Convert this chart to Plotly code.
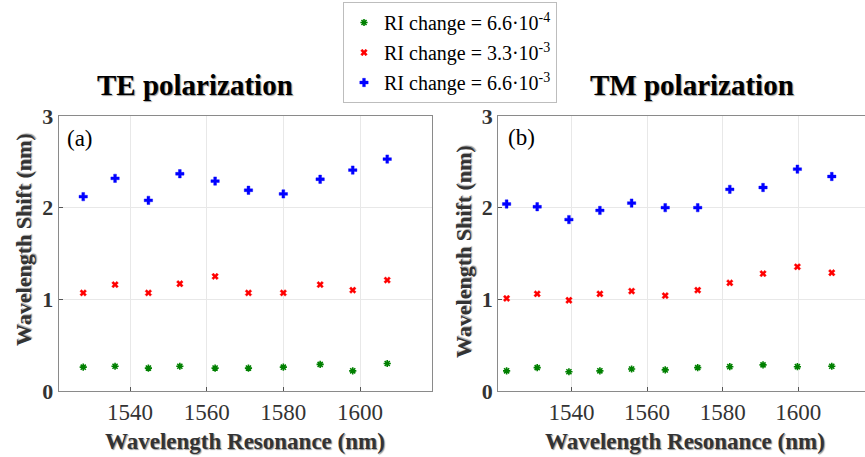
import plotly.graph_objects as go

# ---- data ----
te_wl = [1527.8, 1536.1, 1544.8, 1553.0, 1562.2, 1570.9, 1580.0, 1589.6, 1598.1, 1607.1]
te_ri1 = [0.26, 0.27, 0.25, 0.27, 0.25, 0.25, 0.26, 0.29, 0.22, 0.30]
te_ri2 = [1.07, 1.16, 1.07, 1.17, 1.25, 1.07, 1.07, 1.16, 1.10, 1.21]
te_ri3 = [2.12, 2.32, 2.08, 2.37, 2.29, 2.19, 2.15, 2.31, 2.41, 2.53]

tm_wl = [1522.8, 1530.9, 1539.3, 1547.5, 1555.9, 1564.8, 1573.4, 1581.9, 1590.7, 1599.8, 1608.9]
tm_ri1 = [0.22, 0.255, 0.21, 0.22, 0.24, 0.23, 0.255, 0.265, 0.285, 0.265, 0.27]
tm_ri2 = [1.01, 1.06, 0.99, 1.06, 1.09, 1.04, 1.10, 1.18, 1.28, 1.355, 1.29]
tm_ri3 = [2.04, 2.01, 1.87, 1.97, 2.05, 2.00, 2.00, 2.20, 2.22, 2.42, 2.34]

series_names = ["RI change = 6.6·10<sup>-4</sup>",
                "RI change = 3.3·10<sup>-3</sup>",
                "RI change = 6.6·10<sup>-3</sup>"]
x_ticks = [1540, 1560, 1580, 1600]
y_ticks = [0, 1, 2, 3]

SERIF = "Liberation Serif, Times New Roman, serif"
colors = ["#008000", "#ff0000", "#0000ff"]
symbols = ["asterisk-open", "x", "cross"]
sizes = [6, 6, 7]
lw = [1.6, 0.3, 0.4]

fig = go.Figure()

for panel, (wl, ys) in enumerate([(te_wl, [te_ri1, te_ri2, te_ri3]),
                                   (tm_wl, [tm_ri1, tm_ri2, tm_ri3])]):
    xa = "x" if panel == 0 else "x2"
    ya = "y" if panel == 0 else "y2"
    for i, y in enumerate(ys):
        marker = dict(symbol=symbols[i], size=sizes[i], color=colors[i],
                      line=dict(width=lw[i], color=colors[i]))
        fig.add_trace(go.Scatter(
            x=wl, y=y, mode="markers", name=series_names[i],
            marker=marker, xaxis=xa, yaxis=ya,
            legendgroup=f"g{i}", showlegend=(panel == 0)))

W, H = 865, 457
ytop, ybot = 116, 391
y_dom = [1 - ybot / H, 1 - ytop / H]

axis_common = dict(showgrid=True, gridcolor="#e8e8e8", gridwidth=1,
                   showline=True, linecolor="#8a8a8a", linewidth=1.2, mirror=True,
                   ticks="inside", ticklen=4, tickcolor="#555",
                   zeroline=False, automargin=False)

fig.update_layout(
    width=W, height=H,
    margin=dict(l=0, r=0, t=0, b=0, autoexpand=False),
    paper_bgcolor="white", plot_bgcolor="white",
    showlegend=True,
    legend=dict(x=343 / W, y=1 - 2 / H, xanchor="left", yanchor="top",
                bgcolor="white", bordercolor="#bdbdbd", borderwidth=1,
                font=dict(family=SERIF, size=20, color="black"),
                tracegroupgap=1, itemsizing="trace"),
    xaxis=dict(domain=[58.7 / W, 431.7 / W], range=[1521.4, 1618.7],
               tickvals=x_ticks, anchor="y",
               tickfont=dict(family=SERIF, size=23, color="#333"), **axis_common),
    yaxis=dict(domain=y_dom, range=[0, 3], tickvals=y_ticks, anchor="x",
               tickfont=dict(family=SERIF, size=22, color="#333", weight="bold"),
               **axis_common),
    xaxis2=dict(domain=[498.3 / W, 1.0], range=[1520.6, 1617.7],
                tickvals=x_ticks, anchor="y2",
                tickfont=dict(family=SERIF, size=23, color="#333"), **axis_common),
    yaxis2=dict(domain=y_dom, range=[0, 3], tickvals=y_ticks, anchor="x2",
                tickfont=dict(family=SERIF, size=22, color="#333", weight="bold"),
                **axis_common),
)

shadow = "1px 1px 1px #999"
title_font = dict(family=SERIF, size=29, color="black", weight="bold", shadow=shadow)
axt_font = dict(family=SERIF, size=22, color="#333", weight="bold", shadow=shadow)
xaxt_font = dict(family=SERIF, size=23, color="#333", weight="bold", shadow=shadow)
lab_font = dict(family=SERIF, size=23, color="black")

anns = [
    dict(text="TE polarization", x=195 / W, y=1 - 85 / H, font=title_font),
    dict(text="TM polarization", x=692 / W, y=1 - 85 / H, font=title_font),
    dict(text="Wavelength Shift (nm)", x=24 / W, y=1 - 240 / H, textangle=-90, font=axt_font),
    dict(text="Wavelength Shift (nm)", x=463 / W, y=1 - 252 / H, textangle=-90, font=axt_font),
    dict(text="Wavelength Resonance (nm)", x=245 / W, y=1 - 441 / H, font=xaxt_font),
    dict(text="Wavelength Resonance (nm)", x=685 / W, y=1 - 441 / H, font=xaxt_font),
    dict(text="(a)", x=80 / W, y=1 - 138 / H, font=lab_font),
    dict(text="(b)", x=521 / W, y=1 - 137 / H, font=lab_font),
]
for a in anns:
    a.update(xref="paper", yref="paper", showarrow=False,
             xanchor="center", yanchor="middle")
    fig.add_annotation(**a)

fig.write_html("out.html",
               config={"displayModeBar": False},
               post_script="document.body.style.margin='0px';"
                           "document.body.style.overflow='hidden';")
